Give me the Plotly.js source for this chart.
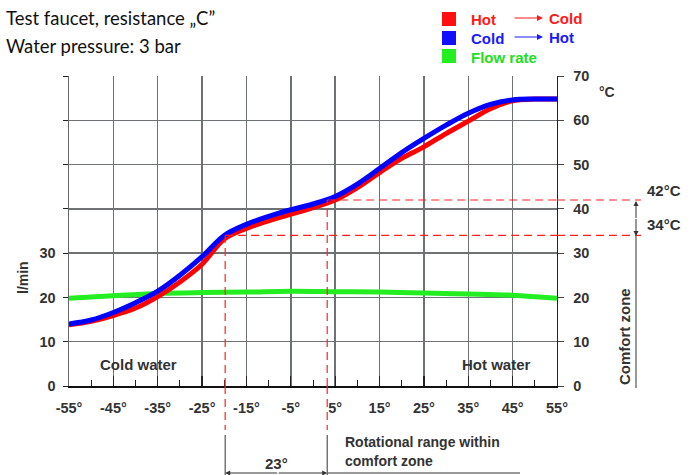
<!DOCTYPE html>
<html>
<head>
<meta charset="utf-8">
<script src="https://cdn.plot.ly/plotly-3.0.1.min.js"></script>
<style>html,body{margin:0;padding:0;background:#fff;}#chart{width:697px;height:475px;}</style>
</head>
<body>
<div id="chart"></div>
<script>
// ---- data ----
const tempAngles = [-55,-50,-45,-40,-35,-30,-25,-20,-15,-10,-5,0,5,10,15,20,25,30,35,40,45,50,55];
const hotToCold  = [13.8,14.6,15.9,17.6,20.2,23.5,27.5,33.2,35.6,37.3,38.8,40.3,42.0,44.8,48.2,51.4,54.0,57.0,59.8,62.6,64.4,64.8,64.8];
const coldToHot  = [14.0,14.9,16.6,18.8,21.4,25.0,29.2,34.0,36.5,38.3,39.8,41.1,42.8,45.6,49.1,52.7,55.9,58.9,61.6,63.6,64.6,64.8,64.8];
const flowAngles = [-55,-45,-35,-25,-15,-5,5,15,25,35,45,55];
const flowRate   = [19.8,20.4,20.9,21.1,21.2,21.4,21.3,21.2,21.0,20.8,20.5,19.8];
const angleTicks = [-55,-45,-35,-25,-15,-5,5,15,25,35,45,55];
const angleTickText = angleTicks.map(v => v + '°');
const valueTicks = [0,10,20,30,40,50,60,70];
const flowTickText = ['0','10','20','30','','','',''];
const tempTickText = ['0','10','20','30','40','50','60','70'];
const comfortTemps = [34, 42];
const comfortAngles = [-19.8, 3.2];
const comfortRange = '23°';

// ---- helpers: pixel -> paper ----
const PX = px => (px - 69) / 488;
const PY = py => (386 - py) / 310;

const dark = '#333333';
const F = (size, color) => ({family: 'Liberation Sans, Arial, sans-serif', size: size, color: color || dark, weight: 'bold'});

const traces = [
  {x: tempAngles, y: hotToCold, yaxis: 'y2', mode: 'lines', name: 'Hot → Cold',
   line: {color: '#ff0000', width: 5, shape: 'spline', smoothing: 1}},
  {x: tempAngles, y: coldToHot, yaxis: 'y2', mode: 'lines', name: 'Cold → Hot',
   line: {color: '#0000ff', width: 5, shape: 'spline', smoothing: 1}},
  {x: flowAngles, y: flowRate, mode: 'lines', name: 'Flow rate',
   line: {color: '#22ee22', width: 5, shape: 'spline', smoothing: 1}}
];

const dash = {color: '#ff2020', width: 1.2, dash: '8px,5px'};
const shapes = [];
comfortTemps.forEach((t, i) => {
  const a = comfortAngles[i];
  shapes.push({type: 'line', xref: 'x', yref: 'y', x0: a, x1: 55, y0: t, y1: t, line: dash});
  shapes.push({type: 'line', xref: 'paper', yref: 'y', x0: 1, x1: PX(641), y0: t, y1: t, line: dash});
  shapes.push({type: 'line', xref: 'x', yref: 'y', x0: a, x1: a, y0: 0, y1: t, line: dash});
  shapes.push({type: 'line', xref: 'x', yref: 'paper', x0: a, x1: a, y0: 0, y1: PY(430), line: dash});
  shapes.push({type: 'line', xref: 'x', yref: 'paper', x0: a, x1: a, y0: PY(435), y1: PY(476), line: {color: dark, width: 1}});
});
shapes.push({type: 'line', xref: 'paper', yref: 'paper', x0: PX(328), x1: PX(520), y0: PY(473), y1: PY(473), line: {color: dark, width: 1}});
shapes.push({type: 'line', xref: 'paper', yref: 'paper', x0: PX(636), x1: PX(636), y0: PY(236), y1: PY(388), line: {color: dark, width: 1}});
[['#ff1010', 19], ['#1010ff', 38], ['#22ee22', 56]].forEach(([c, cy]) => {
  shapes.push({type: 'rect', xref: 'paper', yref: 'paper', x0: PX(442), x1: PX(456), y0: PY(cy - 7), y1: PY(cy + 7),
               fillcolor: c, line: {width: 0}});
});

const annotations = [
  {text: 'Test faucet, resistance „C”', x: PX(4), y: PY(18), font: {family: 'Lato, sans-serif', size: 18.5, color: '#111'}},
  {text: 'Water pressure: 3 bar', x: PX(4), y: PY(46), font: {family: 'Lato, sans-serif', size: 18.5, color: '#111'}},
  {text: 'Hot', x: PX(469), y: PY(19), font: F(15, '#ff1a1a')},
  {text: 'Cold', x: PX(547), y: PY(18), font: F(15, '#ff1a1a')},
  {text: 'Cold', x: PX(469), y: PY(38), font: F(15, '#1a1aff')},
  {text: 'Hot', x: PX(547), y: PY(37), font: F(15, '#1a1aff')},
  {text: 'Flow rate', x: PX(469), y: PY(57), font: F(15, '#22dd22')},
  {text: '', x: PX(543), y: PY(18), ax: -32, ay: 0, showarrow: true, arrowhead: 2, arrowsize: 1, arrowwidth: 1.2, arrowcolor: '#ff1a1a'},
  {text: '', x: PX(543), y: PY(37), ax: -32, ay: 0, showarrow: true, arrowhead: 2, arrowsize: 1, arrowwidth: 1.2, arrowcolor: '#1a1aff'},
  {text: '°C', x: PX(597), y: PY(92), font: F(14)},
  {text: 'l/min', x: PX(23), y: PY(278), xanchor: 'center', textangle: -90, font: F(14)},
  {text: 'Cold water', x: PX(98), y: PY(364), font: F(15)},
  {text: 'Hot water', x: PX(460), y: PY(364), font: F(15)},
  {text: '42°C', x: PX(645), y: PY(190), font: F(15)},
  {text: '34°C', x: PX(645), y: PY(224), font: F(15)},
  {text: 'Comfort zone', x: PX(624), y: PY(337), xanchor: 'center', textangle: -90, font: F(15)},
  {text: '', x: PX(636), y: PY(201), ax: 0, ay: 17, showarrow: true, arrowhead: 2, arrowsize: 1, arrowwidth: 1, arrowcolor: dark},
  {text: '', x: PX(636), y: PY(236), ax: 0, ay: -17, showarrow: true, arrowhead: 2, arrowsize: 1, arrowwidth: 1, arrowcolor: dark},
  {text: comfortRange, x: PX(276), y: PY(463), xanchor: 'center', font: F(15)},
  {text: 'Rotational range within', x: PX(343), y: PY(442), font: F(14)},
  {text: 'comfort zone', x: PX(343), y: PY(461), font: F(14)},
  {text: '', xref: 'x', x: comfortAngles[0], y: PY(473), ax: 52, ay: 0, showarrow: true, arrowhead: 2, arrowsize: 1, arrowwidth: 1, arrowcolor: dark},
  {text: '', xref: 'x', x: comfortAngles[1], y: PY(473), ax: -52, ay: 0, showarrow: true, arrowhead: 2, arrowsize: 1, arrowwidth: 1, arrowcolor: dark}
].map(a => Object.assign({xref: 'paper', yref: 'paper', xanchor: 'left', yanchor: 'middle', showarrow: false}, a));

const grid = '#6f7275';
const layout = {
  width: 697, height: 475,
  margin: {l: 69, r: 140, t: 76, b: 89, pad: 0},
  paper_bgcolor: '#fff', plot_bgcolor: '#fff',
  showlegend: false, hovermode: false,
  xaxis: {
    range: [-55, 55], tickvals: angleTicks, ticktext: angleTickText,
    showgrid: true, gridcolor: grid, gridwidth: 1.4, zeroline: false,
    ticks: 'inside', ticklen: 10, tickwidth: 1.2, tickcolor: '#222',
    minor: {tickvals: [-50,-40,-30,-20,-10,0,10,20,30,40,50], ticks: 'inside', ticklen: 6, tickwidth: 1, tickcolor: '#222', showgrid: false},
    showline: true, linecolor: '#111', linewidth: 1.5,
    tickfont: F(14.5), ticklabelstandoff: 8, fixedrange: true
  },
  yaxis: {
    range: [0, 70], tickvals: valueTicks, ticktext: flowTickText,
    showgrid: true, gridcolor: grid, gridwidth: 1.4, zeroline: false,
    ticks: 'outside', ticklen: 5, tickcolor: '#222',
    showline: true, linecolor: '#666', linewidth: 1.4,
    tickfont: F(14.5), ticklabelstandoff: 4, fixedrange: true
  },
  yaxis2: {
    range: [0, 70], tickvals: valueTicks, ticktext: tempTickText, overlaying: 'y', side: 'right',
    showgrid: false, zeroline: false,
    ticks: 'outside', ticklen: 6, tickcolor: '#444',
    showline: true, linecolor: '#222', linewidth: 1.3,
    tickfont: F(14.5), ticklabelstandoff: 6, fixedrange: true
  },
  shapes: shapes,
  annotations: annotations
};

Plotly.newPlot('chart', traces, layout, {displayModeBar: false, staticPlot: true});
</script>
</body>
</html>
